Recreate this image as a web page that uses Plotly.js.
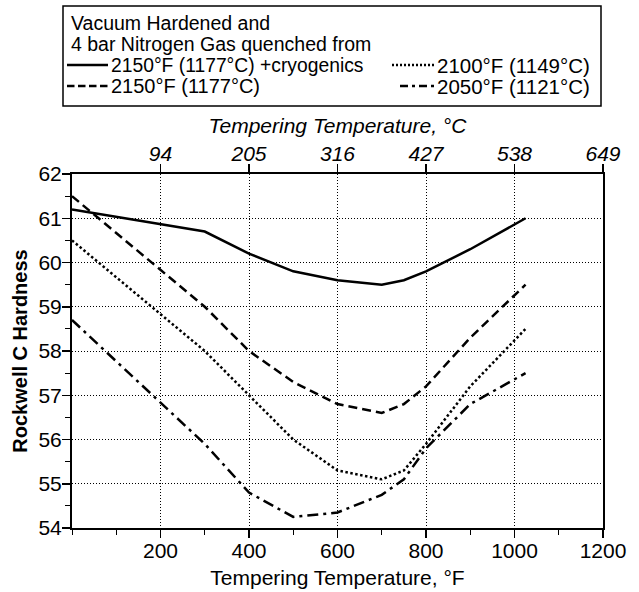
<!DOCTYPE html>
<html><head><meta charset="utf-8">
<script src="https://cdn.plot.ly/plotly-3.0.1.min.js"></script>
<style>html,body{margin:0;padding:0;background:#fff;} #chart{width:639px;height:592px;}</style>
</head><body><div id="chart"></div>
<script>
// ---- data ----
const tempF = [0, 300, 400, 500, 600, 700, 750, 800, 900, 1025];
const cryo2150 = [61.2, 60.7, 60.2, 59.8, 59.6, 59.5, 59.6, 59.8, 60.3, 61.0];
const q2150 = [61.5, 59.0, 58.0, 57.3, 56.8, 56.6, 56.8, 57.2, 58.3, 59.5];
const q2100 = [60.5, 58.0, 57.0, 56.0, 55.3, 55.1, 55.3, 55.9, 57.2, 58.5];
const q2050 = [58.7, 55.9, 54.8, 54.25, 54.35, 54.75, 55.1, 55.8, 56.8, 57.5];
const seriesNames = ['2150°F (1177°C) +cryogenics', '2100°F (1149°C)', '2150°F (1177°C)', '2050°F (1121°C)'];
const fTicks = [200, 400, 600, 800, 1000, 1200];
const cTickLabels = ['94', '205', '316', '427', '538', '649'];
const legendTitle = ['Vacuum Hardened and', '4 bar Nitrogen Gas quenched from'];

// ---- geometry / styles ----
const W = 639, H = 592, L = 72, R = 603, T = 174, B = 528;
const px = v => (v - L) / (R - L);
const py = v => (B - v) / (B - T);
const FONT = 'Liberation Sans, Arial, Helvetica, sans-serif';
const black = '#000';
const dashes = {
  solid: 'solid', dash: '9px,5px', dot: '2.5px,2.5px', dashdot: '11px,5px,3px,5px'
};

const traces = [
  {x: tempF, y: cryo2150, name: seriesNames[0], line: {dash: dashes.solid}},
  {x: tempF, y: q2100, name: seriesNames[1], line: {dash: dashes.dot}},
  {x: tempF, y: q2150, name: seriesNames[2], line: {dash: dashes.dash}},
  {x: tempF, y: q2050, name: seriesNames[3], line: {dash: dashes.dashdot}}
].map(t => Object.assign(t, {
  type: 'scatter', mode: 'lines', showlegend: false, hoverinfo: 'skip',
  line: Object.assign({color: black, width: 2.5}, t.line)
}));
traces.push({type: 'scatter', x: [], y: [], xaxis: 'x2', yaxis: 'y', showlegend: false, hoverinfo: 'skip'});

// ---- hand-drawn legend box ----
const shapes = [
  {type: 'rect', xref: 'paper', yref: 'paper', x0: px(63), x1: px(601), y0: py(6), y1: py(106),
   line: {color: black, width: 1.5}, fillcolor: 'rgba(0,0,0,0)'}
];
const sample = (x0, x1, yy, dash) => ({type: 'line', xref: 'paper', yref: 'paper',
  x0: px(x0), x1: px(x1), y0: py(yy), y1: py(yy), line: {color: black, width: 2.5, dash: dash}});
shapes.push(sample(67, 108, 65, 'solid'));
shapes.push(sample(67, 108, 86, '7.5px,3.5px'));
shapes.push(sample(392, 434, 65, '2px,2px'));
shapes.push(sample(400, 434, 86, '8px,4px,3px,4px'));

const txt = (x, y, text, size) => ({xref: 'paper', yref: 'paper', x: px(x), y: py(y), text: text,
  showarrow: false, xanchor: 'left', yanchor: 'middle', font: {family: FONT, size: size, color: black}});
const annotations = [
  txt(69, 23, legendTitle[0], 19.5),
  txt(69, 44, legendTitle[1], 19.5),
  txt(109, 65, seriesNames[0], 19.3),
  txt(109, 86, seriesNames[2], 20),
  txt(435, 65, seriesNames[1], 20.5),
  txt(435, 86, seriesNames[3], 20.5)
];

const tickFont = {family: FONT, size: 21, color: black};
const layout = {
  width: W, height: H,
  margin: {l: L, r: W - R, t: T, b: H - B, pad: 0},
  paper_bgcolor: '#fff', plot_bgcolor: '#fff',
  showlegend: false,
  font: {family: FONT, color: black},
  xaxis: {
    range: [0, 1200], tickvals: fTicks, ticks: 'outside', ticklen: 8, tickwidth: 1.5, tickcolor: black,
    showline: true, linewidth: 2, linecolor: black, zeroline: false,
    showgrid: true, gridcolor: black, gridwidth: 1, griddash: '1px,2px',
    tickfont: tickFont, ticklabelstandoff: -5,
    title: {text: 'Tempering Temperature, °F', font: {family: FONT, size: 21, color: black}, standoff: 9},
    minor: {ticks: 'outside', ticklen: 5, tickwidth: 1, tickcolor: black, dtick: 100, tick0: 0, showgrid: false}
  },
  xaxis2: {
    overlaying: 'x', side: 'top', anchor: 'y', range: [0, 1200], tickvals: fTicks, ticktext: cTickLabels,
    ticks: 'outside', ticklen: 8, tickwidth: 1.5, tickcolor: black,
    showline: true, linewidth: 2, linecolor: black, zeroline: false, showgrid: false,
    tickfont: Object.assign({style: 'italic'}, tickFont), ticklabelstandoff: -5,
    title: {text: 'Tempering Temperature, °C', font: {family: FONT, size: 21, color: black, style: 'italic'}, standoff: 2}
  },
  yaxis: {
    range: [54, 62], dtick: 1, tick0: 54, ticks: 'outside', ticklen: 8, tickwidth: 1.5, tickcolor: black,
    showline: true, mirror: true, linewidth: 2, linecolor: black, zeroline: false,
    showgrid: true, gridcolor: black, gridwidth: 1, griddash: '1px,2px',
    tickfont: tickFont, ticklabelstandoff: -4,
    title: {text: 'Rockwell C Hardness', font: {family: FONT, size: 20, color: black, weight: 700}, standoff: 5},
    minor: {ticks: 'outside', ticklen: 5, tickwidth: 1, tickcolor: black, dtick: 0.5, tick0: 54, showgrid: false}
  },
  shapes: shapes,
  annotations: annotations
};

Plotly.newPlot('chart', traces, layout, {staticPlot: true, displayModeBar: false});
</script>
</body></html>
